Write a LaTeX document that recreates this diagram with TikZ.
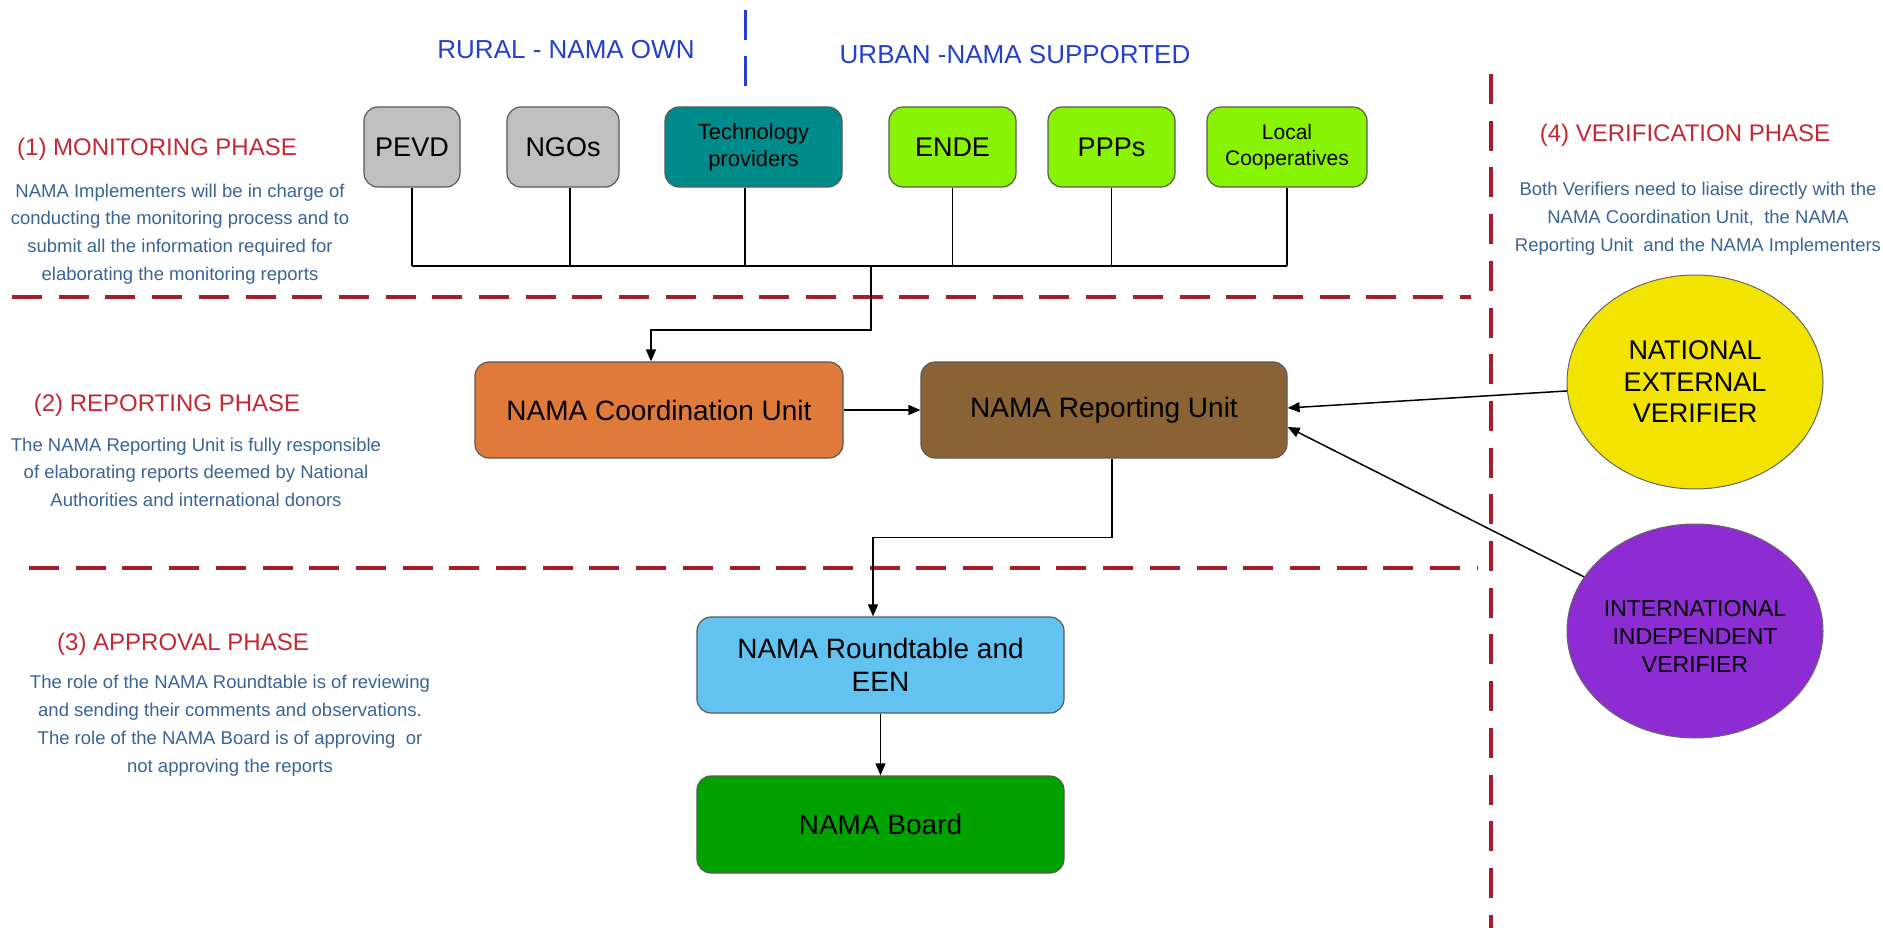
\documentclass[tikz,border=0pt]{standalone}
\usepackage{fontspec}
\setmainfont{Liberation Sans}
\usetikzlibrary{arrows.meta,shapes.geometric}

\definecolor{rurgray}{RGB}{192,192,192}
\definecolor{techteal}{RGB}{0,139,139}
\definecolor{urbgreen}{RGB}{136,244,4}
\definecolor{coordorange}{RGB}{224,122,58}
\definecolor{repbrown}{RGB}{138,99,52}
\definecolor{roundblue}{RGB}{98,194,240}
\definecolor{boardgreen}{RGB}{0,162,0}
\definecolor{natyellow}{RGB}{242,228,0}
\definecolor{intpurple}{RGB}{142,44,212}
\definecolor{phasered}{RGB}{196,40,52}
\definecolor{dashred}{RGB}{164,30,44}
\definecolor{zoneblue}{RGB}{36,64,204}
\definecolor{notetext}{RGB}{58,100,148}

\newcommand{\fs}[2]{\fontsize{#1}{#2}\selectfont}

\begin{document}
\begin{tikzpicture}[
    x=1pt, y=-1pt,
    box/.style={draw=black!65, line width=1.2pt, rounded corners=14pt,
                align=center, inner sep=0pt, text=black},
    topbox/.style={box, minimum height=80pt},
    unitbox/.style={box, minimum width=367pt, minimum height=96pt, font=\fs{28}{33}},
    verifier/.style={ellipse, draw=black!60, line width=1pt, align=center,
                     inner sep=0pt, minimum width=256pt, text=black},
    phase/.style={text=phasered, font=\fs{24}{28}, anchor=base, inner sep=0pt},
    note/.style={text=notetext, font=\fs{18.5}{27.7}, align=center,
                 anchor=north, inner sep=0pt},
    zone/.style={text=zoneblue, font=\fs{26}{30}, anchor=base, inner sep=0pt},
    link/.style={draw=black, line width=1.5pt},
    arrow/.style={link, -{Triangle[length=12pt,width=10pt]}},
    reddash/.style={draw=dashred, line width=4pt, dash pattern=on 30pt off 16.7pt},
  ]
  % canvas
  \fill[white] (0,0) rectangle (1883,928);
  \useasboundingbox (0,0) rectangle (1883,928);

  % phase separators
  \draw[reddash] (12,297) -- (1471,297);
  \draw[reddash] (29,568) -- (1478,568);
  \draw[reddash] (1491,74) -- (1491,928);
  \draw[zoneblue, line width=3pt, dash pattern=on 30pt off 16pt] (745,10) -- (745,86);

  % zone headings
  \node[zone] (rural) at (566,59) {RURAL - NAMA OWN};
  \node[zone] (urban) at (1015,64) {URBAN -NAMA SUPPORTED};

  % phase headings and notes
  \node[phase] (ph1) at (157,156) {(1) MONITORING PHASE};
  \node[note] (nt1) at (180,183.5) {NAMA Implementers will be in charge of\\
    conducting the monitoring process and to\\
    submit all the information required for\\
    elaborating the monitoring reports};

  \node[phase] (ph2) at (167,411) {(2) REPORTING PHASE};
  \node[note] (nt2) at (196,437.5) {The NAMA Reporting Unit is fully responsible\\
    of elaborating reports deemed by National\\
    Authorities and international donors};

  \node[phase] (ph3) at (183,650) {(3) APPROVAL PHASE};
  \node[note] (nt3) at (230,675.3) {The role of the NAMA Roundtable is of reviewing\\
    and sending their comments and observations.\\
    The role of the NAMA Board is of approving\ \ or\\
    not approving the reports};

  \node[phase] (ph4) at (1685,142) {(4) VERIFICATION PHASE};
  \node[note] (nt4) at (1698,182.3) {Both Verifiers need to liaise directly with the\\
    NAMA Coordination Unit,\ \ the NAMA\\
    Reporting Unit\ \ and the NAMA Implementers};

  % implementers
  \node[topbox, fill=rurgray, minimum width=96pt, font=\fs{27}{30}] (pevd) at (412,147) {PEVD};
  \node[topbox, fill=rurgray, minimum width=112pt, font=\fs{27}{30}] (ngo) at (563,147) {NGOs};
  \node[topbox, fill=techteal, minimum width=177pt, font=\fs{22}{27}] (tech) at (753.5,147) {Technology\\providers};
  \node[topbox, fill=urbgreen, minimum width=127pt, font=\fs{27}{30}] (ende) at (952.5,147) {ENDE};
  \node[topbox, fill=urbgreen, minimum width=127pt, font=\fs{27}{30}] (ppp) at (1111.5,147) {PPPs};
  \node[topbox, fill=urbgreen, minimum width=160pt, font=\fs{21}{26}] (coop) at (1287,147) {Local\\Cooperatives};

  % units
  \node[unitbox, fill=coordorange, minimum width=368pt] (coord) at (659,410) {NAMA Coordination Unit};
  \node[unitbox, fill=repbrown, minimum width=366pt] (rep) at (1104,410) {NAMA Reporting Unit};
  \node[unitbox, fill=roundblue] (round) at (880.5,665) {NAMA Roundtable and\\EEN};
  \node[unitbox, fill=boardgreen, minimum height=97pt] (board) at (880.5,824.5) {NAMA Board};

  % verifiers
  \node[verifier, fill=natyellow, minimum height=214pt, font=\fs{27}{31.5}] (nat) at (1695,382) {NATIONAL\\EXTERNAL\\VERIFIER};
  \node[verifier, fill=intpurple, minimum height=214pt] (intl) at (1695,631) {};
  \node[align=center, inner sep=0pt, font=\fs{23}{28}] (intltext) at (1695,636) {INTERNATIONAL\\INDEPENDENT\\VERIFIER};

  % collector bus of the implementers
  \coordinate (busy) at (0,266);
  \draw[link] (pevd.south) -- (pevd.south |- busy);
  \draw[link] ([xshift=7pt]ngo.south) -- ([xshift=7pt]ngo.south |- busy);
  \draw[link] ([xshift=-8.5pt]tech.south) -- ([xshift=-8.5pt]tech.south |- busy);
  \draw[link] (ende.south) -- (ende.south |- busy);
  \draw[link] (ppp.south) -- (ppp.south |- busy);
  \draw[link] (coop.south) -- (coop.south |- busy);
  \draw[link] (pevd.south |- busy) -- (coop.south |- busy);
  \coordinate (drop) at (871,266);
  \draw[arrow] (drop) -- (871,330) -| ([xshift=-8pt]coord.north);

  % reporting flow
  \draw[arrow] (coord.east) -- (rep.west);
  \draw[arrow] ([xshift=8pt]rep.south) -- ++(0,79) -| ([xshift=-7.5pt]round.north);
  \draw[arrow] (round.south) -- (board.north);

  % verification links
  \draw[arrow] (nat.184) -- ([yshift=2pt]rep.east);
  \draw[arrow] (intl.154) -- ([yshift=-17pt]rep.east);
\end{tikzpicture}
\end{document}
